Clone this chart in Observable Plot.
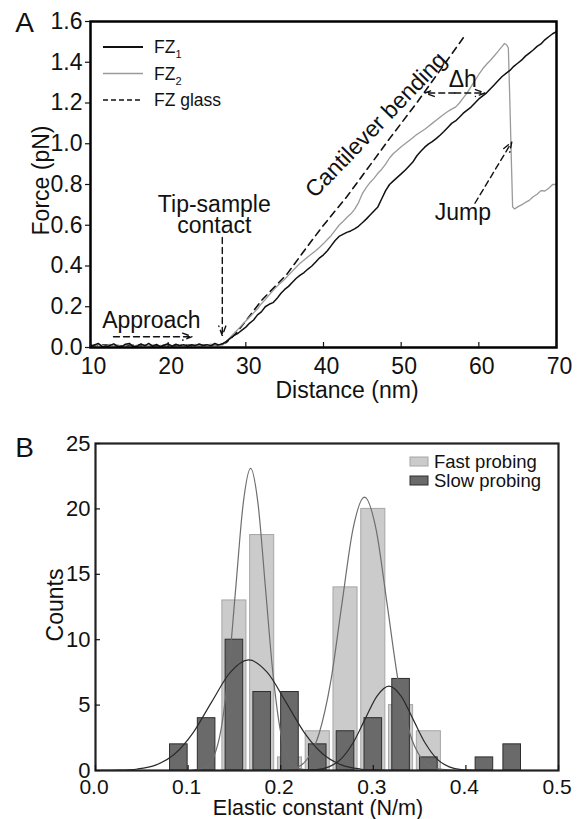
<!DOCTYPE html>
<html><head><meta charset="utf-8">
<script src="https://cdn.jsdelivr.net/npm/d3@7"></script>
<script src="https://cdn.jsdelivr.net/npm/@observablehq/plot@0.6"></script>
<style>
body{margin:0;background:#fff;}
#wrap{width:584px;}
#wrap svg{display:block;}
</style></head><body><div id="wrap"></div>
<script>
// ---------- Panel A data: force-distance curves (distance nm, force pN) ----------
const fz1 = [[10,0.005],[10.5,0.012],[11,0.02],[11.5,0.004],[12,0.002],[12.5,0.01],[13,0.018],[13.5,0.006],[14,0.003],[14.5,0.016],[15,0.02],[15.5,0.004],[16,0.006],[16.5,0.018],[17,0.008],[17.5,0.02],[18,0.006],[18.5,0.015],[19,0.004],[19.5,0.012],[20,0.018],[20.5,0.006],[21,0.016],[21.5,0.008],[22,0.014],[22.5,0.006],[23,0.013],[23.5,0.009],[24,0.017],[24.5,0.01],[25,0.014],[25.5,0.008],[26,0.02],[26.5,0.012],[27,0.018],[27.5,0.03],[28,0.045],[28.5,0.06],[29,0.07],[29.5,0.085],[30,0.10],[30.5,0.12],[31,0.135],[31.5,0.16],[32,0.175],[32.5,0.20],[33,0.212],[33.5,0.22],[34,0.24],[34.5,0.265],[35,0.285],[35.5,0.30],[36,0.32],[36.5,0.34],[37,0.355],[37.5,0.368],[38,0.385],[38.5,0.40],[39,0.42],[39.5,0.44],[40,0.455],[40.5,0.475],[41,0.50],[41.5,0.525],[42,0.545],[42.5,0.555],[43,0.565],[43.5,0.572],[44,0.582],[44.5,0.595],[45,0.612],[45.5,0.63],[46,0.65],[46.5,0.67],[47,0.69],[47.5,0.73],[48,0.77],[48.5,0.80],[49,0.818],[49.5,0.835],[50,0.852],[50.5,0.87],[51,0.89],[51.5,0.91],[52,0.94],[52.5,0.962],[53,0.982],[53.5,0.998],[54,1.01],[54.5,1.025],[55,1.042],[55.5,1.06],[56,1.08],[56.5,1.10],[57,1.112],[57.5,1.13],[58,1.15],[58.5,1.165],[59,1.18],[59.5,1.20],[60,1.22],[60.5,1.235],[61,1.25],[61.5,1.27],[62,1.29],[62.5,1.31],[63,1.33],[63.5,1.345],[64,1.36],[64.5,1.38],[65,1.395],[65.5,1.41],[66,1.43],[66.5,1.445],[67,1.46],[67.5,1.478],[68,1.49],[68.5,1.51],[69,1.525],[69.5,1.54],[70,1.55]];
const fz2 = [[10,0.008],[10.5,0.004],[11,0.015],[11.5,0.01],[12,0.004],[12.5,0.016],[13,0.008],[13.5,0.012],[14,0.004],[14.5,0.01],[15,0.015],[15.5,0.006],[16,0.012],[16.5,0.005],[17,0.014],[17.5,0.008],[18,0.012],[18.5,0.004],[19,0.01],[19.5,0.006],[20,0.012],[20.5,0.01],[21,0.006],[21.5,0.014],[22,0.008],[22.5,0.012],[23,0.006],[23.5,0.015],[24,0.008],[24.5,0.014],[25,0.01],[25.5,0.016],[26,0.01],[26.5,0.014],[27,0.012],[27.5,0.03],[28,0.05],[28.5,0.07],[29,0.09],[29.5,0.11],[30,0.13],[30.5,0.15],[31,0.17],[31.5,0.19],[32,0.215],[32.5,0.235],[33,0.258],[33.5,0.28],[34,0.30],[34.5,0.318],[35,0.335],[35.5,0.355],[36,0.375],[36.5,0.395],[37,0.414],[37.5,0.43],[38,0.445],[38.5,0.46],[39,0.475],[39.5,0.492],[40,0.51],[40.5,0.53],[41,0.55],[41.5,0.575],[42,0.60],[42.5,0.618],[43,0.638],[43.5,0.655],[44,0.678],[44.5,0.71],[45,0.755],[45.5,0.785],[46,0.81],[46.5,0.83],[47,0.855],[47.5,0.875],[48,0.90],[48.5,0.93],[49,0.952],[49.5,0.968],[50,0.985],[50.5,1.00],[51,1.015],[51.5,1.03],[52,1.045],[52.5,1.058],[53,1.07],[53.5,1.085],[54,1.10],[54.5,1.115],[55,1.13],[55.5,1.145],[56,1.158],[56.5,1.17],[57,1.18],[57.5,1.20],[58,1.225],[58.5,1.25],[59,1.28],[59.5,1.31],[60,1.34],[60.5,1.368],[61,1.39],[61.5,1.41],[62,1.432],[62.5,1.455],[63,1.478],[63.3,1.492],[63.6,1.485],[63.8,1.47],[64,1.2],[64.2,0.9],[64.35,0.69],[64.6,0.68],[65,0.69],[65.5,0.70],[66,0.712],[66.5,0.722],[67,0.74],[67.5,0.752],[68,0.77],[68.5,0.768],[69,0.782],[69.5,0.80],[70,0.80]];
const fzGlass = [[10,0.01],[12,0.012],[14,0.008],[16,0.012],[18,0.01],[20,0.01],[22,0.012],[24,0.01],[26,0.012],[26.5,0.01],[27.5,0.025],[28.5,0.06],[30,0.13],[32,0.23],[35.3,0.36],[38,0.50],[40,0.60],[43,0.74],[46,0.895],[48.6,1.03],[52,1.20],[55,1.36],[58,1.52]];
const distanceTicks = [10,20,30,40,50,60,70];
const forceTicks = [0,0.2,0.4,0.6,0.8,1.0,1.2,1.4,1.6];
const seriesA = ["FZ1","FZ2","FZ glass"];
const annotations = [
  {text:"Approach", x:17.84, y:0.134, rotate:0},
  {text:"Tip-sample", x:25.94, y:0.703, rotate:0},
  {text:"contact", x:25.94, y:0.600, rotate:0},
  {text:"Cantilever bending", x:46.76, y:1.092, rotate:-46},
  {text:"Δh", x:57.94, y:1.314, rotate:0},
  {text:"Jump", x:57.94, y:0.663, rotate:0}
];
const annotationArrows = [
  {x1:12.96, y1:0.053, x2:23.1, y2:0.053},
  {x1:26.97, y1:0.54, x2:26.97, y2:0.058},
  {x1:56.9, y1:1.249, x2:53.06, y2:1.249},
  {x1:56.9, y1:1.249, x2:60.77, y2:1.249},
  {x1:59.5, y1:0.708, x2:64.24, y2:1.008}
];

// ---------- Panel B data: histogram of elastic constants ----------
const binCenters = [0.09,0.12,0.15,0.18,0.21,0.24,0.27,0.30,0.33,0.36,0.39,0.42,0.45];
const fastCounts = [0,0,13,18,1,3,14,20,5,3,0,0,0];
const slowCounts = [2,4,10,6,6,2,3,4,7,1,0,1,2];
const seriesB = ["Fast probing","Slow probing"];
const fastFit1 = [[0.1035,0.01],[0.1195,0.26],[0.1275,1.0],[0.1355,3.1],[0.1435,7.5],[0.1515,14.0],[0.1595,20.4],[0.1675,23.1],[0.1755,20.4],[0.1835,14.0],[0.1915,7.5],[0.1995,3.1],[0.2075,1.0],[0.2155,0.26],[0.2315,0.01]];
const fastFit2 = [[0.1925,0.01],[0.217,0.23],[0.229,0.92],[0.2415,2.83],[0.254,6.79],[0.266,12.68],[0.278,18.44],[0.2905,20.9],[0.303,18.44],[0.315,12.68],[0.327,6.79],[0.3395,2.83],[0.352,0.92],[0.364,0.23],[0.3885,0.01]];
const slowFit1 = [[0.0055,0.004],[0.0255,0.025],[0.0455,0.117],[0.0655,0.43],[0.0855,1.26],[0.1055,2.90],[0.1255,5.25],[0.1455,7.50],[0.1655,8.45],[0.1855,7.50],[0.2055,5.25],[0.2255,2.90],[0.2455,1.26],[0.2655,0.43],[0.2855,0.117],[0.3055,0.025],[0.3255,0.004]];
const slowFit2 = [[0.213,0.0],[0.239,0.07],[0.252,0.28],[0.265,0.87],[0.278,2.10],[0.291,3.91],[0.304,5.69],[0.317,6.45],[0.330,5.69],[0.343,3.91],[0.356,2.10],[0.369,0.87],[0.382,0.28],[0.395,0.07],[0.421,0.0]];
const elasticTicks = [0,0.1,0.2,0.3,0.4,0.5];
const countTicks = [0,5,10,15,20,25];

const FONT = "'Liberation Sans', Arial, Helvetica, sans-serif";
const wrap = document.getElementById("wrap");
const lbl = {textAnchor: "middle", lineAnchor: "middle", fill: "#111"};

// ---------------- Panel A ----------------
const plotA = Plot.plot({
  width: 584, height: 400,
  marginLeft: 90, marginRight: 28, marginTop: 21, marginBottom: 53,
  style: {fontFamily: FONT, fontSize: "23px", color: "#111", background: "#fff", overflow: "visible"},
  x: {domain: [10, 70]},
  y: {domain: [0, 1.6]},
  marks: [
    Plot.line(fzGlass, {x: d => d[0], y: d => d[1], stroke: "#111", strokeWidth: 1.6, strokeDasharray: "7,5"}),
    Plot.line(fz2, {x: d => d[0], y: d => d[1], stroke: "#9a9a9a", strokeWidth: 1.3}),
    Plot.line(fz1, {x: d => d[0], y: d => d[1], stroke: "#111", strokeWidth: 1.5}),
    Plot.arrow(annotationArrows, {x1: "x1", y1: "y1", x2: "x2", y2: "y2", stroke: "#111", strokeWidth: 1.4, strokeDasharray: "6,4", headLength: 11, headAngle: 40}),
    Plot.text(annotations, {x: "x", y: "y", text: "text", rotate: "rotate", fontSize: 23, ...lbl}),
    Plot.frame({stroke: "#000", strokeWidth: 2.5}),
    Plot.axisX({ticks: distanceTicks, tickSize: 0, tickPadding: 10, tickFormat: d => String(d), label: null, dx: 3, fontSize: 23}),
    Plot.axisX({ticks: distanceTicks, tickSize: -5, tickFormat: () => "", label: null, strokeWidth: 1.2}),
    Plot.axisY({ticks: forceTicks, tickSize: 5, tickPadding: 3, tickFormat: d3.format(".1f"), label: null, fontSize: 23, strokeWidth: 1.2}),
    Plot.text(["Distance (nm)"], {frameAnchor: "bottom", dy: 43, dx: 23.5, fontSize: 23, ...lbl}),
    Plot.text(["Force (pN)"], {frameAnchor: "left", dx: -49, dy: -4, rotate: -90, fontSize: 23, ...lbl}),
    Plot.text(["A"], {frameAnchor: "top-left", dx: -66, dy: 2, fontSize: 28, ...lbl})
  ]
});
wrap.appendChild(plotA);

// legend A (inside plot area, top-left)
{
  const svg = d3.select(plotA);
  const styles = [
    {stroke: "#111", width: 2, dash: null, sub: "1"},
    {stroke: "#9a9a9a", width: 1.5, dash: null, sub: "2"},
    {stroke: "#111", width: 1.6, dash: "5,3", sub: ""}
  ];
  const g = svg.append("g").attr("font-family", FONT).attr("fill", "#111").attr("text-anchor", "start");
  seriesA.forEach((name, i) => {
    const y = 47 + i * 26.5;
    const s = styles[i];
    g.append("line").attr("x1", 103).attr("x2", 143).attr("y1", y).attr("y2", y)
      .attr("stroke", s.stroke).attr("stroke-width", s.width).attr("stroke-dasharray", s.dash);
    const t = g.append("text").attr("x", 154).attr("y", y + 6.3).attr("font-size", 17.5).attr("text-anchor", "start");
    if (s.sub) {
      t.append("tspan").text(name.replace(s.sub, ""));
      t.append("tspan").attr("font-size", 11).attr("dy", 5).text(s.sub);
    } else {
      t.text(name);
    }
  });
}

// ---------------- Panel B ----------------
const fastHalf = 0.013, slowHalf = 0.0095;
const fastBars = binCenters.map((c, i) => ({c, n: fastCounts[i]})).filter(d => d.n > 0);
const slowBars = binCenters.map((c, i) => ({c, n: slowCounts[i]})).filter(d => d.n > 0);
const plotB = Plot.plot({
  width: 584, height: 419,
  marginLeft: 95, marginRight: 26, marginTop: 43, marginBottom: 49,
  style: {fontFamily: FONT, fontSize: "22px", color: "#111", background: "#fff", overflow: "visible"},
  x: {domain: [0, 0.5]},
  y: {domain: [0, 25]},
  marks: [
    Plot.rectY(fastBars, {x1: d => d.c - fastHalf, x2: d => d.c + fastHalf, y1: 0, y2: "n", fill: "#cbcbcb", stroke: "#a6a6a6", strokeWidth: 1}),
    Plot.rectY(slowBars, {x1: d => d.c - slowHalf, x2: d => d.c + slowHalf, y1: 0, y2: "n", fill: "#6a6a6a", stroke: "#2e2e2e", strokeWidth: 1}),
    Plot.line(fastFit1, {x: d => d[0], y: d => d[1], stroke: "#6e6e6e", strokeWidth: 1.2, curve: "monotone-x"}),
    Plot.line(fastFit2, {x: d => d[0], y: d => d[1], stroke: "#6e6e6e", strokeWidth: 1.2, curve: "monotone-x"}),
    Plot.line(slowFit1, {x: d => d[0], y: d => d[1], stroke: "#2a2a2a", strokeWidth: 1.2, curve: "monotone-x"}),
    Plot.line(slowFit2, {x: d => d[0], y: d => d[1], stroke: "#2a2a2a", strokeWidth: 1.2, curve: "monotone-x"}),
    Plot.frame({stroke: "#222", strokeWidth: 2.2}),
    Plot.axisX({ticks: elasticTicks, tickSize: 0, tickPadding: 8.5, tickFormat: d3.format(".1f"), label: null, dx: -1.5, fontSize: 21}),
    Plot.axisX({ticks: elasticTicks, tickSize: -5, tickFormat: () => "", label: null, strokeWidth: 1.2}),
    Plot.axisY({ticks: countTicks, tickSize: 0, tickPadding: 5, tickFormat: d => String(d), label: null, fontSize: 22}),
    Plot.axisY({ticks: countTicks, tickSize: -5, tickFormat: () => "", label: null, strokeWidth: 1.2}),
    Plot.text(["Elastic constant (N/m)"], {frameAnchor: "bottom", dy: 37.5, dx: -9, fontSize: 21.5, ...lbl}),
    Plot.text(["Counts"], {frameAnchor: "left", dx: -40, dy: -2, rotate: -90, fontSize: 23, ...lbl}),
    Plot.text(["B"], {frameAnchor: "top-left", dx: -71, dy: 4.5, fontSize: 28, ...lbl})
  ]
});
wrap.appendChild(plotB);

// legend B (inside plot area, top-right)
{
  const svg = d3.select(plotB);
  const fills = [{fill: "#cbcbcb", stroke: "#a6a6a6"}, {fill: "#6a6a6a", stroke: "#2e2e2e"}];
  const g = svg.append("g").attr("font-family", FONT).attr("fill", "#111").attr("text-anchor", "start");
  seriesB.forEach((name, i) => {
    const y = 57 + i * 19;
    g.append("rect").attr("x", 410).attr("y", y).attr("width", 18).attr("height", 9)
      .attr("fill", fills[i].fill).attr("stroke", fills[i].stroke).attr("stroke-width", 1);
    g.append("text").attr("x", 434).attr("y", y + 11.2).attr("font-size", 18.5).attr("text-anchor", "start").text(name);
  });
}
</script>
</body></html>
